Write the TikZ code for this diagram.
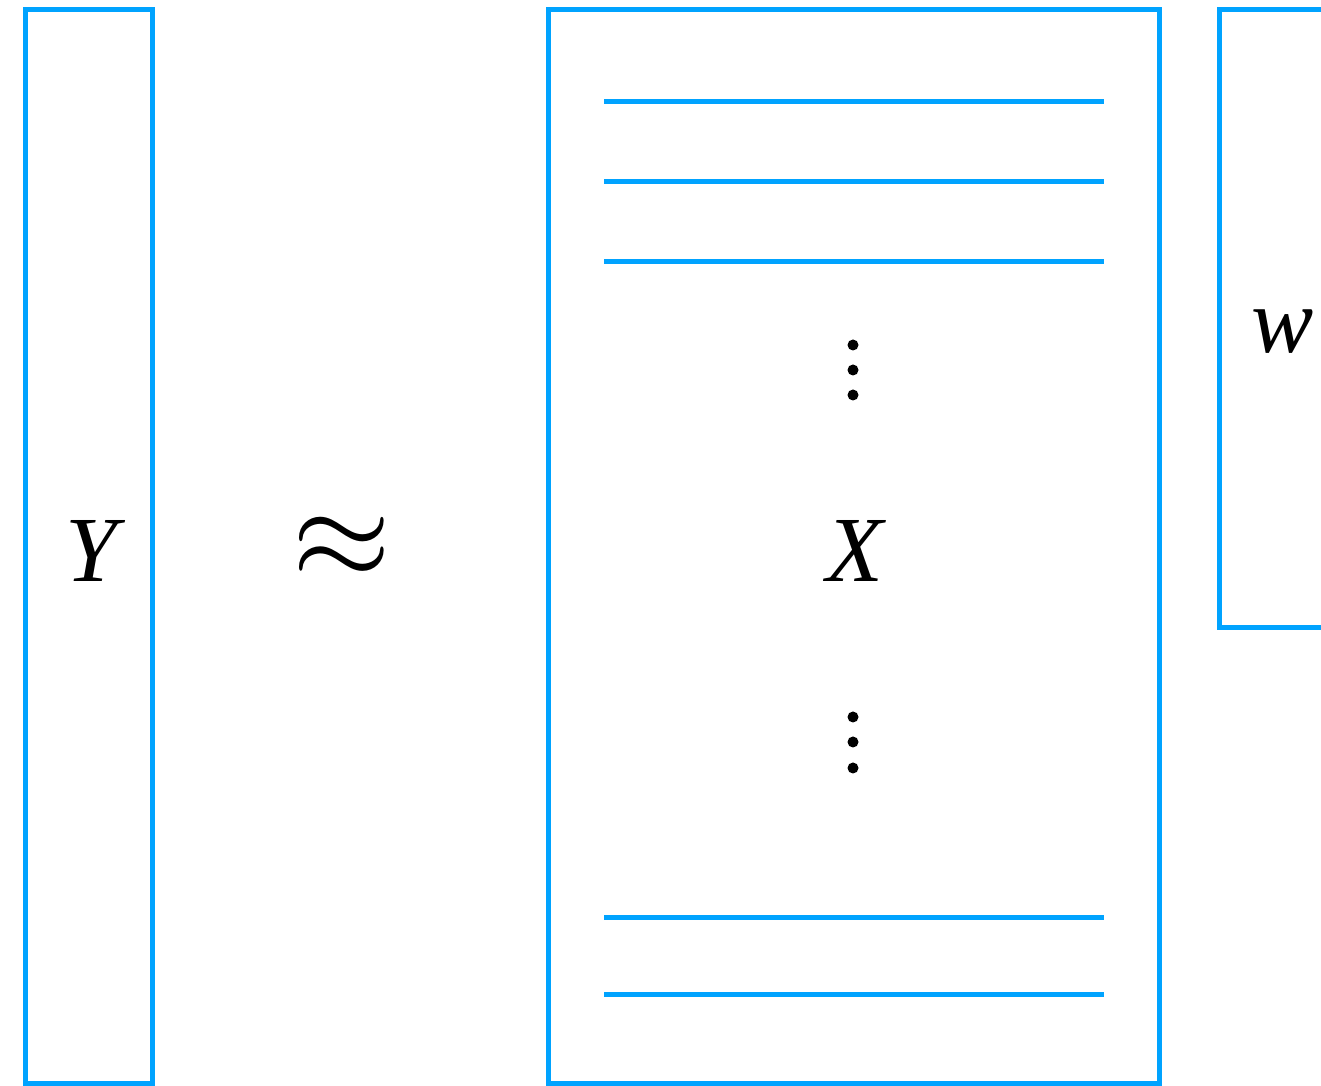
\documentclass[tikz,border=0pt]{standalone}
\usepackage{graphicx}
\usepackage{fontspec}
\setmainfont{Liberation Serif}
\usepackage{xcolor}
\definecolor{matblue}{RGB}{0,163,255}
\usetikzlibrary{calc}
\tikzset{
	mat/.style={draw=matblue,line width=0.05cm,inner sep=0pt},
	row/.style={matblue,line width=0.05cm},
	lbl/.style={inner sep=0pt,font=\fontsize{26.5}{30}\selectfont}
}

\begin{document}
\begin{tikzpicture}[x=0.01cm,y=-0.01cm]
	\useasboundingbox (0,0) rectangle (1321,1086);
	% matrices
	\node[mat,minimum width=1.26cm,minimum height=10.73cm] (Ybox) at (89,546.5) {};
	\node[mat,minimum width=6.10cm,minimum height=10.73cm] (Xbox) at (854,546.5) {};
	\node[mat,minimum width=2.00cm,minimum height=6.17cm] (wbox) at (1320,318.5) {};
	% labels
	\node[lbl] (Y) at (96,551) {\textit{Y}};
	\node[lbl] (approx) at (342,548) {\scalebox{1.45}{$\approx$}};
	\node[lbl] (X) at (856,551) {\textit{X}};
	\node[lbl] (w) at (1283,332) {\textit{w}};
	% rows of X
	\foreach \yy in {102,182,262,918,995}
		\draw[row] (604,\yy)--(1104,\yy);
	% dots
	\foreach \yy in {345,370,395,717,742,768}
		\fill (853,\yy) circle (0.055cm);
\end{tikzpicture}
\end{document}
